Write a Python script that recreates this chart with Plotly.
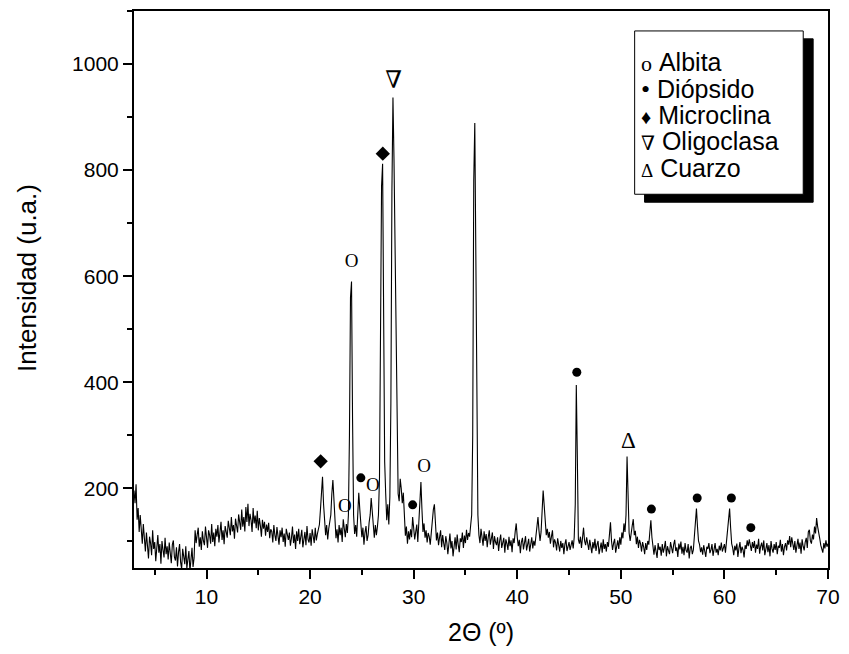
import numpy as np
import plotly.graph_objects as go

# XRD scan: 3.0 -> 70.0 deg 2-theta, step 0.1
scan_start = 3.0
scan_step = 0.1

# intensity, one row per degree
intensity_03_20 = [
    196, 172, 208, 141, 163, 118, 150, 127, 96, 133,
    104, 81, 117, 92, 68, 109, 97, 74, 121, 86,
    99, 63, 88, 112, 79, 95, 58, 101, 84, 70,
    107, 76, 91, 66, 98, 83, 59, 94, 102, 71,
    64, 89, 53, 80, 95, 61, 48, 86, 72, 57,
    91, 49, 66, 82, 44, 73, 88, 52, 69, 121,
    97, 113, 126, 90, 108, 84, 119, 101, 93, 128,
    104, 88, 121, 112, 96, 133, 99, 117, 91, 124,
    109, 131, 98, 115, 137, 103, 121, 95, 129, 118,
    107, 139, 124, 112, 146, 119, 131, 105, 143, 126,
    117, 151, 134, 122, 160, 128, 146, 119, 165, 137,
    171, 129, 152, 140, 118, 163, 134, 149, 125, 158,
    121, 144, 130, 109, 141, 124, 137, 111, 132, 118,
    135, 106, 123, 119, 98, 131, 112, 101, 127, 109,
    94, 121, 108, 126, 99, 115, 90, 124, 111, 103,
    117, 92, 106, 128, 97, 113, 86, 119, 101, 124,
    95, 111, 122, 89, 107, 118, 93, 129, 104, 98,
]
intensity_20_36 = [
    116, 92, 123, 108, 97, 126, 102, 114, 121, 132,
    160, 205, 222, 170, 126, 112, 131, 104, 124, 138,
    150, 190, 216, 180, 128, 106, 123, 98, 131, 112,
    126, 99, 142, 121, 108, 133, 116, 150, 300, 560,
    590, 330, 150, 114, 131, 109, 150, 192, 160, 121,
    108, 126, 94, 117, 129, 101, 112, 136, 150, 182,
    158, 122, 107, 131, 112, 128, 150, 220, 480, 770,
    812, 560, 250, 190, 140, 170, 132, 184, 360, 760,
    937, 820, 660, 420, 240, 190, 176, 218, 200, 172,
    192, 146, 111, 128, 96, 119, 104, 123, 108, 146,
    127, 104, 118, 132, 99, 140, 190, 212, 160, 118,
    134, 107, 121, 98, 116, 109, 94, 122, 130, 160,
    170, 124, 102, 117, 93, 108, 121, 89, 112, 97,
    84, 110, 98, 76, 104, 115, 87, 101, 72, 96,
    108, 85, 113, 94, 80, 106, 99, 117, 88, 111,
    97, 122, 103, 116, 109, 130, 150, 300, 780, 889,
]
intensity_36_53 = [
    620, 260, 150, 112, 97, 124, 105, 92, 119, 101,
    114, 89, 108, 121, 94, 103, 117, 86, 110, 99,
    93, 108, 82, 101, 113, 88, 97, 107, 79, 104,
    96, 84, 109, 91, 102, 80, 106, 97, 118, 134,
    108, 91, 103, 78, 99, 107, 85, 96, 110, 83,
    98, 105, 81, 94, 108, 87, 101, 92, 112, 126,
    146, 120, 101, 118, 150, 196, 168, 131, 112, 124,
    107, 118, 96, 109, 121, 89, 104, 98, 83, 106,
    92, 81, 101, 88, 97, 76, 95, 104, 82, 91,
    99, 84, 93, 102, 87, 108, 170, 395, 260, 104,
    96, 109, 88, 115, 126, 101, 93, 108, 97, 84,
    103, 91, 78, 99, 87, 105, 82, 94, 101, 76,
    92, 98, 79, 104, 86, 95, 81, 99, 90, 120,
    136, 101, 84, 97, 105, 79, 93, 102, 86, 108,
    94, 117, 106, 134, 118, 150, 260, 200, 116, 101,
    121, 130, 142, 112, 120, 95, 109, 88, 103, 96,
    81, 99, 90, 76, 97, 84, 101, 94, 118, 140,
]
intensity_53_70 = [
    108, 86, 75, 93, 81, 69, 97, 84, 90, 73,
    95, 79, 88, 101, 72, 91, 83, 76, 99, 87,
    78, 94, 103, 82, 89, 71, 96, 85, 100, 77,
    90, 74, 97, 83, 79, 95, 68, 88, 92, 76,
    84, 110, 140, 162, 128, 101, 94, 80, 89, 75,
    93, 82, 71, 90, 86, 97, 78, 84, 95, 73,
    88, 97, 79, 86, 74, 92, 83, 98, 81, 90,
    95, 79, 101, 110, 140, 162, 126, 96, 88, 74,
    92, 83, 96, 71, 87, 99, 78, 90, 84, 70,
    93, 86, 102, 91, 104, 95, 82, 99, 88, 101,
    79, 94, 86, 105, 77, 91, 98, 83, 102, 74,
    89, 97, 80, 93, 72, 101, 86, 79, 95, 84,
    99, 76, 92, 88, 103, 81, 95, 74, 90, 97,
    83, 102, 94, 110, 89, 108, 96, 84, 101, 79,
    92, 105, 86, 98, 77, 104, 91, 83, 99, 107,
    88, 118, 122, 101, 96, 113, 104, 128, 115, 144,
    128, 112, 106, 93, 84, 79, 97, 87, 102, 90,
    96,
]

intensity = intensity_03_20 + intensity_20_36 + intensity_36_53 + intensity_53_70
two_theta = scan_start + scan_step * np.arange(len(intensity))

# phase labels placed above the peaks
albita_x = [24.0, 23.35, 26.05, 31.0]
albita_y = [627, 165, 205, 239]
diopsido_x = [24.9, 29.9, 45.75, 52.95, 57.37, 60.67, 62.55]
diopsido_y = [220, 169, 419, 161, 182, 182, 126]
microclina_x = [21.02, 27.02]
microclina_y = [251, 831]
oligoclasa_x = [28.07]
oligoclasa_y = [966]
cuarzo_x = [50.72]
cuarzo_y = [287]

legend_labels = ["Albita", "Diópsido", "Microclina", "Oligoclasa", "Cuarzo"]
legend_symbols = ["ο", "•", "♦", "∇", "Δ"]

sans = "Arial, Liberation Sans, sans-serif"
serif = "Times New Roman, Liberation Serif, DejaVu Serif, serif"

fig = go.Figure()

fig.add_trace(go.Scatter(x=two_theta, y=intensity, mode='lines',
                         line=dict(color='black', width=1.1), showlegend=False))

fig.add_trace(go.Scatter(x=albita_x, y=albita_y, mode='text', text=["O"] * len(albita_x),
                         textfont=dict(family=serif, size=19, color='black'), showlegend=False))
fig.add_trace(go.Scatter(x=diopsido_x, y=diopsido_y, mode='markers',
                         marker=dict(symbol='circle', size=9, color='black'), showlegend=False))
fig.add_trace(go.Scatter(x=microclina_x, y=microclina_y, mode='markers',
                         marker=dict(symbol='diamond', size=11, color='black'), showlegend=False))
fig.add_trace(go.Scatter(x=oligoclasa_x, y=oligoclasa_y, mode='text', text=["∇"],
                         textfont=dict(family=serif, size=24, color='black'), showlegend=False))
fig.add_trace(go.Scatter(x=cuarzo_x, y=cuarzo_y, mode='text', text=["Δ"],
                         textfont=dict(family=serif, size=23, color='black'), showlegend=False))

# legend box with drop shadow
fig.add_shape(type='rect', xref='paper', yref='paper', x0=0.7357, x1=0.9786, y0=0.6567, y1=0.950,
              fillcolor='black', line=dict(color='black', width=1))
fig.add_shape(type='rect', xref='paper', yref='paper', x0=0.7214, x1=0.9643, y0=0.671, y1=0.9642,
              fillcolor='white', line=dict(color='black', width=1))

symbol_sizes = [22, 26, 20, 20, 19]
legend_y = [0.9088, 0.8599, 0.8134, 0.7669, 0.7180]
for lab, sym, sz, yy in zip(legend_labels, legend_symbols, symbol_sizes, legend_y):
    fig.add_annotation(xref='paper', yref='paper', x=0.728, y=yy, xanchor='left', yanchor='middle',
                       showarrow=False,
                       text="<span style=\"font-family:'Liberation Serif','DejaVu Serif';font-size:%dpx\">%s</span> %s"
                            % (sz, sym, lab),
                       font=dict(family=sans, size=25, color='black'))

fig.add_annotation(xref='paper', yref='paper', x=0.5, y=-0.1157, xanchor='center', yanchor='middle',
                   showarrow=False, text="2Θ (º)", font=dict(family=sans, size=25, color='black'))
fig.add_annotation(xref='paper', yref='paper', x=-0.154, y=0.521, xanchor='center', yanchor='middle',
                   showarrow=False, textangle=-90, text="Intensidad (u.a.)",
                   font=dict(family=sans, size=26, color='black'))

fig.update_layout(
    width=849, height=654,
    margin=dict(l=134, r=13, t=9, b=86),
    plot_bgcolor='white', paper_bgcolor='white',
    font=dict(family=sans, size=21, color='black'),
)
fig.update_xaxes(range=[3, 70], tick0=0, dtick=10, ticks='outside', ticklen=9, tickwidth=1.5,
                 tickcolor='black', showline=True, linewidth=2, linecolor='black', mirror=True,
                 showgrid=False, zeroline=False, ticklabeloverflow='allow',
                 minor=dict(dtick=5, tick0=0, ticks='outside', ticklen=5, tickwidth=1.5, tickcolor='black'))
fig.update_yaxes(range=[50, 1100], tick0=0, dtick=200, ticks='outside', ticklen=9, tickwidth=1.5,
                 tickcolor='black', showline=True, linewidth=2, linecolor='black', mirror=True,
                 showgrid=False, zeroline=False,
                 minor=dict(dtick=100, tick0=0, ticks='outside', ticklen=5, tickwidth=1.5, tickcolor='black'))

# drop the default page margin so the figure sits at the window's corner
fig.write_html("out.html", config={'displayModeBar': False},
               post_script="document.body.style.margin='0';document.body.style.overflow='hidden';")
